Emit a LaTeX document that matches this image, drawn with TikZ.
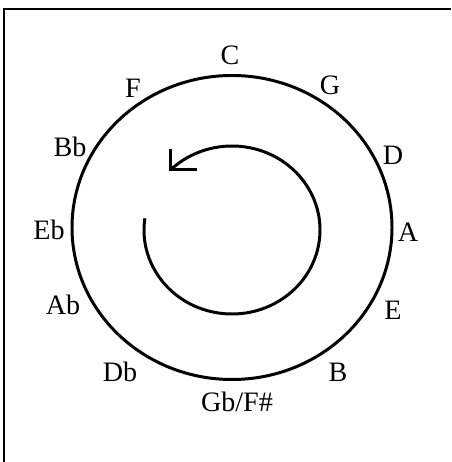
\documentclass[tikz,border=0pt]{standalone}
\usepackage{fontspec}
\setmainfont{Liberation Serif}
\usepackage{tikz}
\usetikzlibrary{arrows.meta}

\begin{document}
\begin{tikzpicture}[x=1cm, y=1cm, line width=1.7pt]
  % circle of fifths: \cfX/\cfY is the centre, \cfA/\cfB the two radii of the
  % outer ring; \spR/\spS are the radii of the inner turning arrow
  \def\cfX{4.64} \def\cfY{4.69} \def\cfA{3.2} \def\cfB{3.04}
  \def\spR{1.76} \def\spS{1.68}

  \useasboundingbox (0,0) rectangle (9.02,9.24);

  % frame, only its left and top edges show
  \draw[line width=1.1pt] (0.08,0) -- (0.08,9.06) -- (9.02,9.06);

  % the ring
  \draw (\cfX,\cfY) ellipse [x radius=\cfA, y radius=\cfB];

  % the inner arrow, one turn anticlockwise, ending in an open L-shaped head
  \draw ({\cfX+\spR*cos(172)},{4.64+\spS*sin(172)})
    arc [start angle=172, end angle=494, x radius=\spR, y radius=\spS]
    coordinate (tip);
  \draw[line join=miter] ([yshift=0.42cm]tip) -- (tip) -- ([xshift=0.52cm]tip);

  % key names round the ring
  \foreach \nm/\px/\py/\key in {c/4.60/8.14/C, g/6.60/7.54/G, d/7.86/6.14/D,
      a/8.16/4.60/A, e/7.86/3.04/E, b/6.76/1.80/B, gb/4.74/1.20/{Gb/F\#},
      db/2.40/1.80/Db, ab/1.26/3.14/Ab, eb/0.98/4.64/Eb, bb/1.40/6.30/Bb,
      f/2.66/7.48/F}
    \node[font=\fontsize{16}{19}\selectfont, inner sep=0pt] (\nm) at (\px,\py) {\key};
\end{tikzpicture}
\end{document}
